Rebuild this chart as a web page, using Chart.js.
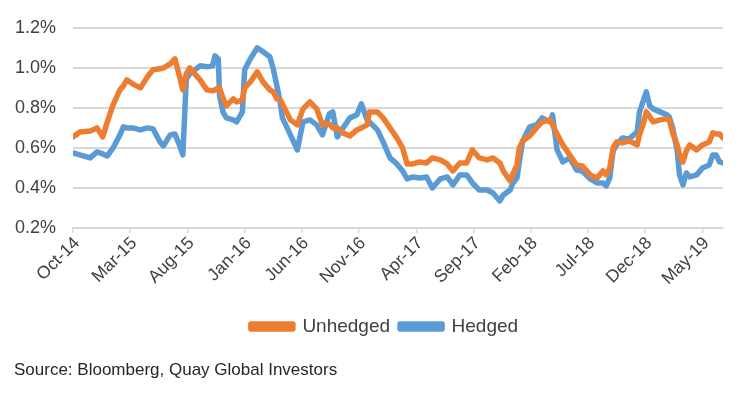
<!DOCTYPE html>
<html>
<head>
<meta charset="utf-8">
<script src="https://cdn.jsdelivr.net/npm/chart.js@4"></script>
<style>
  html, body { margin: 0; padding: 0; background: #fff; }
  #wrap { position: relative; width: 743px; height: 394px; }
  #source { position: absolute; left: 14px; top: 360px; font: 17px "Liberation Sans", Arial, sans-serif; color: #262626; white-space: nowrap; }
</style>
</head>
<body>
<div id="wrap">
  <canvas id="c" width="743" height="394"></canvas>
  <div id="source">Source: Bloomberg, Quay Global Investors</div>
</div>
<script>
// Months elapsed since the start of Oct-14
const months = [0,0.6,1.5,2.1,2.6,3.0,3.5,4.1,4.4,4.7,5.2,5.9,6.5,7.0,7.6,7.9,8.5,8.9,9.3,9.6,9.9,10.2,11.1,11.7,12.2,12.4,12.7,12.8,13.1,13.4,14.0,14.3,14.8,15.0,15.5,16.1,16.6,17.2,17.5,17.8,18.1,18.3,19.0,19.6,20.1,20.7,21.3,21.8,22.4,22.7,23.1,23.6,24.2,24.8,25.2,25.7,25.9,26.6,27.1,27.7,28.3,28.8,29.2,29.7,30.3,30.9,31.4,32.1,32.7,33.2,33.8,34.4,34.9,35.5,36.2,36.7,37.3,37.6,38.2,38.4,38.8,39.0,39.3,39.9,40.5,41.0,41.7,41.9,42.3,42.8,43.4,44.0,44.5,45.2,45.8,46.3,46.6,46.9,47.2,47.5,48.0,48.6,49.3,49.5,49.8,50.1,50.4,50.7,51.3,51.9,52.1,52.4,52.8,53.0,53.3,53.6,53.9,54.5,55.0,55.6,55.9,56.2,56.5,56.8];
const unhedged = [0.655,0.68,0.685,0.70,0.655,0.73,0.815,0.89,0.91,0.94,0.92,0.90,0.955,0.99,0.995,1.0,1.02,1.045,0.96,0.89,0.97,1.00,0.94,0.89,0.885,0.89,0.90,0.90,0.85,0.81,0.845,0.83,0.84,0.90,0.93,0.98,0.93,0.89,0.88,0.845,0.84,0.82,0.74,0.715,0.795,0.83,0.795,0.715,0.72,0.70,0.70,0.675,0.66,0.69,0.70,0.715,0.78,0.78,0.75,0.70,0.65,0.60,0.52,0.52,0.53,0.525,0.55,0.54,0.52,0.485,0.525,0.525,0.59,0.55,0.54,0.55,0.525,0.485,0.435,0.465,0.515,0.60,0.635,0.66,0.70,0.73,0.74,0.715,0.67,0.615,0.565,0.515,0.51,0.465,0.45,0.485,0.465,0.50,0.60,0.63,0.625,0.635,0.615,0.665,0.715,0.78,0.755,0.73,0.74,0.745,0.74,0.675,0.615,0.565,0.53,0.585,0.615,0.59,0.615,0.63,0.675,0.67,0.67,0.65];
const hedged = [0.575,0.565,0.55,0.58,0.57,0.56,0.60,0.665,0.705,0.70,0.70,0.69,0.70,0.695,0.63,0.61,0.665,0.67,0.615,0.565,0.945,0.97,1.01,1.005,1.01,1.06,1.045,0.865,0.78,0.75,0.74,0.73,0.78,0.99,1.045,1.10,1.08,1.055,0.995,0.915,0.83,0.75,0.665,0.59,0.73,0.74,0.715,0.665,0.77,0.78,0.655,0.70,0.75,0.765,0.82,0.74,0.73,0.69,0.63,0.55,0.52,0.485,0.445,0.455,0.45,0.455,0.40,0.445,0.455,0.415,0.465,0.465,0.425,0.39,0.39,0.375,0.335,0.365,0.39,0.42,0.45,0.53,0.635,0.705,0.715,0.75,0.73,0.765,0.59,0.53,0.55,0.49,0.485,0.445,0.425,0.425,0.41,0.45,0.585,0.615,0.65,0.645,0.68,0.78,0.83,0.88,0.81,0.795,0.78,0.765,0.755,0.70,0.585,0.465,0.415,0.475,0.455,0.465,0.50,0.515,0.565,0.565,0.53,0.525];
const tickMonths = [0,5,10,15,20,25,30,35,40,45,50,55];
const tickLabels = ['Oct-14','Mar-15','Aug-15','Jan-16','Jun-16','Nov-16','Apr-17','Sep-17','Feb-18','Jul-18','Dec-18','May-19'];
const seriesNames = ['Unhedged','Hedged'];

const FONT = '"Liberation Sans", Arial, sans-serif';
const TXT = '#404040';
const GRID = '#D9D9D9';

// Shift the legend to the right to match the reference placement
const legendShift = {
  id: 'legendShift',
  afterLayout(chart) {
    if (chart.legend) { chart.legend.left += 23; chart.legend.right += 23; }
  }
};

new Chart(document.getElementById('c'), {
  type: 'line',
  plugins: [legendShift],
  data: {
    datasets: [
      { label: seriesNames[0], data: months.map((m, i) => ({x: m, y: unhedged[i]})), borderColor: '#ED7D31', backgroundColor: '#ED7D31', borderWidth: 5.5, pointRadius: 0, tension: 0, borderJoinStyle: 'round', borderCapStyle: 'round' },
      { label: seriesNames[1], data: months.map((m, i) => ({x: m, y: hedged[i]})), borderColor: '#5B9BD5', backgroundColor: '#5B9BD5', borderWidth: 5.5, pointRadius: 0, tension: 0, borderJoinStyle: 'round', borderCapStyle: 'round' }
    ]
  },
  options: {
    responsive: false,
    animation: false,
    layout: { padding: { left: 0, right: 20, top: 21, bottom: 48 } },
    plugins: {
      legend: {
        position: 'bottom',
        labels: { font: { family: FONT, size: 19 }, color: TXT, boxWidth: 42, boxHeight: 5, padding: 10 }
      },
      tooltip: { enabled: false }
    },
    scales: {
      x: {
        type: 'linear',
        min: 0,
        max: 56.8,
        afterBuildTicks: (axis) => { axis.ticks = tickMonths.map(v => ({ value: v })); },
        afterFit: (axis) => { axis.height = 79; },
        ticks: {
          autoSkip: false, maxRotation: 45, minRotation: 45, padding: 0, labelOffset: 4,
          font: { family: FONT, size: 17.5 }, color: TXT,
          callback: (v) => { const i = tickMonths.indexOf(v); return i >= 0 ? tickLabels[i] : ''; }
        },
        grid: { display: true, drawOnChartArea: false, drawTicks: true, tickLength: 5, color: GRID, lineWidth: 1.5 },
        border: { display: true, color: GRID, width: 2 }
      },
      y: {
        min: 0.2,
        max: 1.2,
        afterFit: (axis) => { axis.width = 73; },
        ticks: {
          stepSize: 0.2, padding: 17,
          font: { family: FONT, size: 18 }, color: TXT,
          callback: (v) => v.toFixed(1) + '%'
        },
        grid: { color: GRID, lineWidth: 2, drawTicks: false },
        border: { display: false }
      }
    }
  }
});
</script>
</body>
</html>
